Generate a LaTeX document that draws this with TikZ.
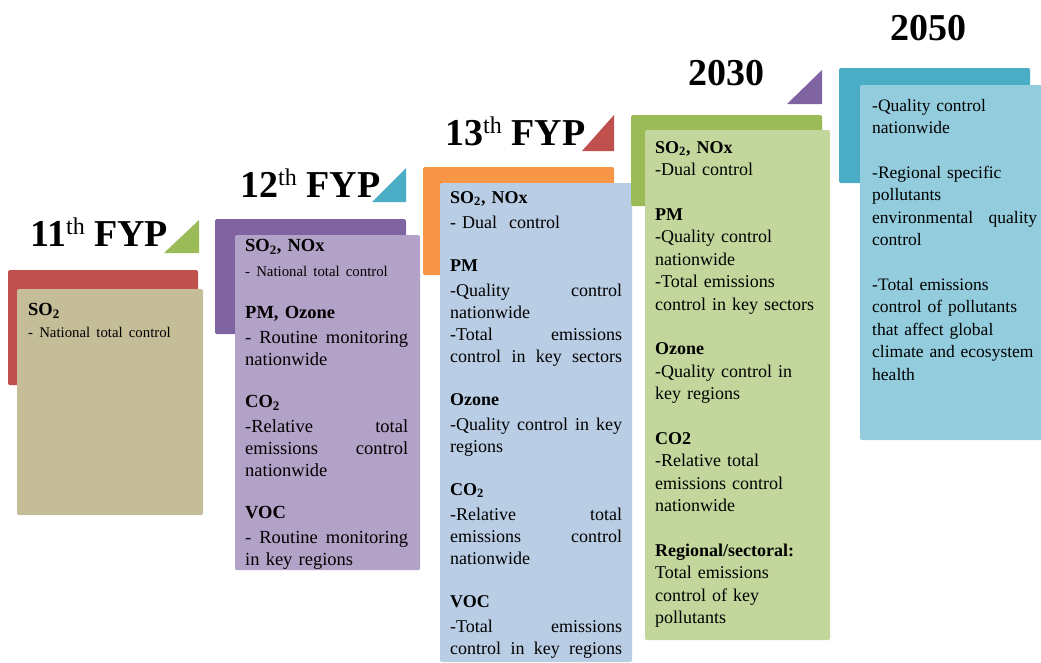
\documentclass[tikz,border=0pt]{standalone}
\usepackage{fontspec}
\setmainfont{Liberation Serif}

\definecolor{redA}{HTML}{C0504D}
\definecolor{tanA}{HTML}{C4BD97}
\definecolor{greenA}{HTML}{9BBB59}
\definecolor{greenB}{HTML}{C3D69B}
\definecolor{purpA}{HTML}{8064A2}
\definecolor{purpB}{HTML}{B3A2C7}
\definecolor{tealA}{HTML}{4BACC6}
\definecolor{blueB}{HTML}{B9CDE5}
\definecolor{blueC}{HTML}{93CDDD}
\definecolor{orangeA}{HTML}{F79646}

\newcommand{\smalltxt}{\fontsize{14.8}{17}\selectfont}
\newcommand{\ordth}{\raisebox{12pt}{\fontsize{24}{24}\mdseries\selectfont th}}
\newcommand{\hd}[1]{\textbf{#1}\\[3pt]}

\begin{document}
\hyphenpenalty=10000
\begin{tikzpicture}[x=1pt,y=-1pt,
  title/.style={anchor=base west,inner sep=0pt,font=\fontsize{38}{40}\selectfont\bfseries},
  txt/.style={anchor=north west,inner sep=0pt,align=left,font=\fontsize{18.5}{22}\selectfont},
  txtb/.style={txt,font=\fontsize{18}{22.5}\selectfont},
  box/.style={rounded corners=1.5pt}]

\useasboundingbox (0,0) rectangle (1041,662);

% 11th FYP
\fill[redA,box] (8,270) rectangle (198,385);
\fill[tanA,box] (17,289) rectangle (203,515);
\fill[greenA] (164,253) -- (199,253) -- (199,220) -- cycle;
\node[title] (fyp11) at (30,246) {11\ordth{} FYP};
\node[txt,text width=170pt] (t11) at (28,303)
  {\textbf{SO\textsubscript{2}}\\ \smalltxt - National total control};

% 12th FYP
\fill[purpA,box] (215,219) rectangle (406,334);
\fill[purpB,box] (235,235) rectangle (420,570);
\fill[tealA] (372,202) -- (406,202) -- (406,168) -- cycle;
\node[title] (fyp12) at (240,197) {12\ordth{} FYP};
\node[txt,text width=163pt] (t12) at (245,239)
  {\hd{SO\textsubscript{2}, NOx}
   {\smalltxt - National total control}\\[20pt]
   \hd{PM, Ozone}
   -\hfill Routine\hfill monitoring\\
   nationwide\\[20pt]
   \hd{CO\textsubscript{2}}
   -Relative\hfill total\\
   emissions\hfill control\\
   nationwide\\[20pt]
   \hd{VOC}
   -\hfill Routine\hfill monitoring\\
   in key regions};

% 13th FYP
\fill[orangeA,box] (423,167) rectangle (614,275);
\fill[blueB,box] (440,183) rectangle (632,662);
\fill[redA] (582,151) -- (614,151) -- (614,115) -- cycle;
\node[title] (fyp13) at (445,145) {13\ordth{} FYP};
\node[txt,text width=172pt,font=\fontsize{18}{22}\selectfont] (t13) at (450,191)
  {\hd{SO\textsubscript{2}, NOx}
   - Dual\ \ control\\[21pt]
   \hd{PM}
   -Quality\hfill control\\
   nationwide\\
   -Total\hfill emissions\\
   control\hfill in\hfill key\hfill sectors\\[21pt]
   \hd{Ozone}
   -Quality\hfill control\hfill in\hfill key\\
   regions\\[21pt]
   \hd{CO\textsubscript{2}}
   -Relative\hfill total\\
   emissions\hfill control\\
   nationwide\\[21pt]
   \hd{VOC}
   -Total\hfill emissions\\
   control\hfill in\hfill key\hfill regions};

% 2030
\fill[greenA,box] (631,115) rectangle (822,206);
\fill[greenB,box] (645,130) rectangle (830,640);
\fill[purpA] (787,104) -- (822,104) -- (822,70) -- cycle;
\node[title] (y2030) at (688,85) {2030};
\node[txtb,text width=172pt] (t30) at (655,141)
  {\textbf{SO\textsubscript{2}, NOx}\\
   -Dual control\\[22pt]
   \textbf{PM}\\
   -Quality control\\
   nationwide\\
   -Total emissions\\
   control in key sectors\\[22pt]
   \textbf{Ozone}\\
   -Quality control in\\
   key regions\\[22pt]
   \textbf{CO2}\\
   -Relative total\\
   emissions control\\
   nationwide\\[22pt]
   \textbf{Regional/sectoral:}\\
   Total emissions\\
   control of key\\
   pollutants};

% 2050
\fill[tealA,box] (839,68) rectangle (1030,183);
\fill[blueC,box] (860,85) rectangle (1045,440);
\node[txtb,text width=165pt,font=\fontsize{17.5}{22.5}\selectfont] (t50) at (872,99)
  {-Quality control\\
   nationwide\\[22pt]
   -Regional specific\\
   pollutants\\
   environmental\hfill quality\\
   control\\[22pt]
   -Total emissions\\
   control of pollutants\\
   that affect global\\
   climate and ecosystem\\
   health};
\node[title] (y2050) at (890,40) {2050};

\end{tikzpicture}
\end{document}
